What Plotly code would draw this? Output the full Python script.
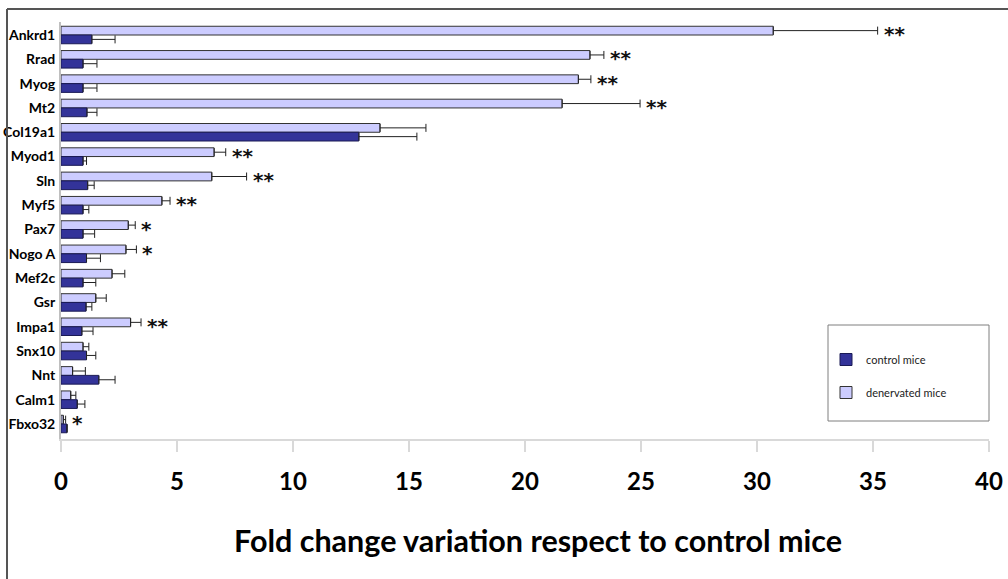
import plotly.graph_objects as go

# ---------------- data ----------------
genes = ["Ankrd1", "Rrad", "Myog", "Mt2", "Col19a1", "Myod1", "Sln", "Myf5", "Pax7",
         "Nogo A", "Mef2c", "Gsr", "Impa1", "Snx10", "Nnt", "Calm1", "Fbxo32"]
control = [1.33, 0.95, 0.95, 1.12, 12.84, 0.95, 1.15, 0.95, 0.95,
           1.10, 0.95, 1.08, 0.90, 1.10, 1.63, 0.70, 0.26]
control_err = [1.00, 0.60, 0.60, 0.43, 2.50, 0.15, 0.28, 0.25, 0.50,
               0.60, 0.55, 0.25, 0.48, 0.40, 0.70, 0.33, 0.00]
denervated = [30.70, 22.80, 22.30, 21.60, 13.75, 6.60, 6.50, 4.35, 2.90,
              2.80, 2.20, 1.50, 3.00, 0.95, 0.50, 0.42, 0.10]
denervated_err = [4.50, 0.60, 0.54, 3.36, 1.98, 0.50, 1.50, 0.35, 0.30,
                  0.45, 0.55, 0.45, 0.45, 0.25, 0.55, 0.22, 0.10]
significance = ["**", "**", "**", "**", "", "**", "**", "**", "*",
                "*", "", "", "**", "", "", "", "*"]
x_ticks = [0, 5, 10, 15, 20, 25, 30, 35, 40]

# ---------------- layout geometry ----------------
W, H = 1008, 579
ML, MR, MT, MB = 61, 19, 22, 140
PW, PH = W - ML - MR, H - MT - MB


def px_x(p):
    return (p - ML) / PW


def px_y(p):
    return (H - MB - p) / PH


DARK = "#333399"
LIGHT = "#ccccff"
FONT = "Lato"

fig = go.Figure()
fig.add_trace(go.Bar(
    name="denervated mice", y=genes, x=denervated, orientation="h",
    marker=dict(color=LIGHT, line=dict(color="#333333", width=1)),
    error_x=dict(type="data", array=denervated_err, arrayminus=[0] * len(genes),
                 symmetric=False, color="#222222", thickness=1, width=4),
    legendgroup="d", legendrank=2,
))
fig.add_trace(go.Bar(
    name="control mice", y=genes, x=control, orientation="h",
    marker=dict(color=DARK, line=dict(color="#1a1a55", width=1)),
    error_x=dict(type="data", array=control_err, arrayminus=[0] * len(genes),
                 symmetric=False, color="#222222", thickness=1, width=4),
    legendgroup="c", legendrank=1,
))

annotations = []
for g, v, e, s in zip(genes, denervated, denervated_err, significance):
    if s:
        annotations.append(dict(
            x=v + e, y=g, xref="x", yref="y", text=s, showarrow=False,
            xanchor="left", yanchor="middle", xshift=4, yshift=1,
            font=dict(family="DejaVu Sans", size=20, color="#111111", weight="bold"),
        ))

annotations.append(dict(
    x=px_x(538), y=px_y(540), xref="paper", yref="paper", showarrow=False,
    text="Fold change variation respect to control mice",
    xanchor="center", yanchor="middle",
    font=dict(family=FONT, size=30.5, color="#000000", weight="bold"),
))

shapes = [
    # outer frame (top and left)
    dict(type="line", xref="paper", yref="paper", x0=px_x(7), x1=px_x(W + 5),
         y0=px_y(9), y1=px_y(9), line=dict(color="#555555", width=2)),
    dict(type="line", xref="paper", yref="paper", x0=px_x(7), x1=px_x(7),
         y0=px_y(9), y1=px_y(H + 5), line=dict(color="#555555", width=2)),
    # legend box
    dict(type="rect", xref="paper", yref="paper", x0=px_x(828), x1=px_x(989),
         y0=px_y(421), y1=px_y(325), line=dict(color="#7f7f7f", width=1),
         fillcolor="white", layer="below"),
]

fig.update_layout(
    width=W, height=H,
    margin=dict(l=ML, r=MR, t=MT, b=MB, pad=0, autoexpand=False),
    paper_bgcolor="white", plot_bgcolor="white",
    barmode="group", bargap=0.28, bargroupgap=0,
    showlegend=True,
    legend=dict(
        x=px_x(826), y=px_y(345), xanchor="left", yanchor="top",
        traceorder="grouped", tracegroupgap=14,
        bgcolor="rgba(0,0,0,0)", borderwidth=0,
        font=dict(family=FONT, size=11, color="#222222"),
    ),
    xaxis=dict(
        range=[0, 40], tickvals=x_ticks, ticktext=[str(t) for t in x_ticks],
        showgrid=False, zeroline=False, automargin=False,
        showline=True, linecolor="#d9d9d9", linewidth=2,
        ticks="outside", ticklen=11, tickcolor="#d9d9d9", tickwidth=2,
        ticklabelstandoff=9,
        tickfont=dict(family=FONT, size=24, color="#000000", weight="bold"),
        fixedrange=True,
    ),
    yaxis=dict(
        autorange="reversed", showgrid=False, zeroline=False, automargin=False,
        showline=True, linecolor="#bfbfbf", linewidth=2,
        ticks="", ticklabelstandoff=1,
        tickfont=dict(family=FONT, size=14, color="#000000", weight="bold"),
        fixedrange=True,
    ),
    annotations=annotations,
    shapes=shapes,
)

fig.write_html("out.html")
